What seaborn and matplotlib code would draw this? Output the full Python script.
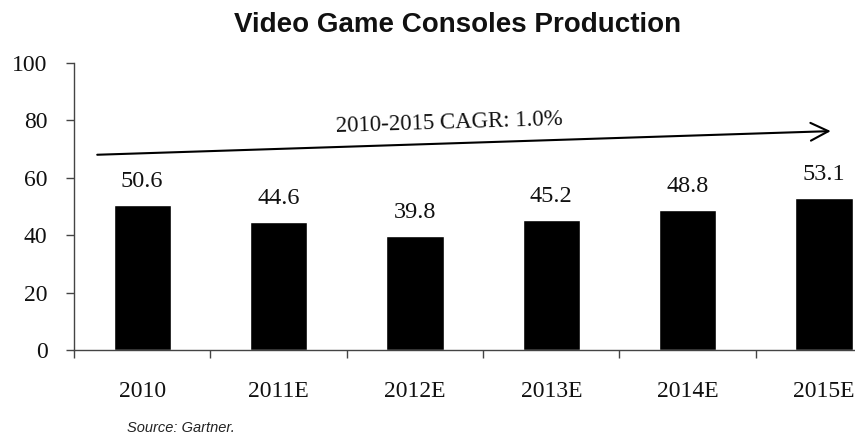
import matplotlib
matplotlib.use("Agg")
import matplotlib.pyplot as plt
import seaborn as sns
import pandas as pd

categories = ["2010", "2011E", "2012E", "2013E", "2014E", "2015E"]
values = [50.6, 44.6, 39.8, 45.2, 48.8, 53.1]
value_labels = ["50.6", "44.6", "39.8", "45.2", "48.8", "53.1"]
y_ticks = [0, 20, 40, 60, 80, 100]
title = "Video Game Consoles Production"
cagr_text = "2010-2015 CAGR: 1.0%"
source_text = "Source: Gartner."

sns.set_style("white")
plt.rcParams['font.family'] = ['Liberation Serif', 'DejaVu Serif']
plt.rcParams['text.color'] = 'black'
plt.rcParams['xtick.color'] = 'black'
plt.rcParams['ytick.color'] = 'black'

df = pd.DataFrame({"year": categories, "value": values})

fig = plt.figure(figsize=(8.55, 4.42), dpi=100)
ax = fig.add_axes([74/855, 1-350/442, 1-74/855 + 0.002, (350-63)/442])

sns.barplot(data=df, x="year", y="value", color="black", width=0.42,
            saturation=1, ax=ax)

ax.set_yticks(y_ticks)
ax.set_yticklabels([str(t) for t in y_ticks], fontsize=17)
ax.set_xticks(range(len(categories)))
ax.set_xticklabels(categories, fontsize=17)
ax.set_xticks([i - 0.5 for i in range(len(categories) + 1)], minor=True)
ax.tick_params(axis='x', which='major', length=0, pad=22, labelcolor='#111111')
ax.tick_params(axis='x', which='minor', direction='out', length=6, width=1,
               color='#444444', bottom=True)
ax.tick_params(axis='y', direction='out', length=6, width=1, color='#444444',
               pad=13, left=True, labelcolor='#111111')
ax.set_xlim(-0.5, 5.24)
ax.set_ylim(0, 100)

ax.set_xlabel("")
ax.set_ylabel("")
for s in ["top", "right"]:
    ax.spines[s].set_visible(False)
for s in ["left", "bottom"]:
    ax.spines[s].set_color('#444444')
    ax.spines[s].set_linewidth(1)

for i, (v, lab) in enumerate(zip(values, value_labels)):
    ax.annotate(lab, (i, v), xytext=(0, 13), textcoords='offset points',
                ha='center', va='baseline', fontsize=17.5, color='#111111')

ax.annotate("", xy=(5.07, 76.3), xytext=(-0.35, 68.0),
            arrowprops=dict(arrowstyle='->', lw=1.5, color='black',
                            mutation_scale=32))
ax.text(2.25, 79.0, cagr_text, ha='center', va='center', fontsize=16.5,
        rotation=1.8, color='#111111')

fig.text(0.535, 1-32/442, title, ha='center', va='baseline', fontsize=20,
         fontweight='bold', color='#111111', family=['Liberation Sans', 'DejaVu Sans'])
fig.text(127/855, 1-432/442, source_text, ha='left', va='baseline', fontsize=10.5,
         style='italic', color='#222222', family=['Liberation Sans', 'DejaVu Sans'])

fig.savefig("out.png", dpi=100)
